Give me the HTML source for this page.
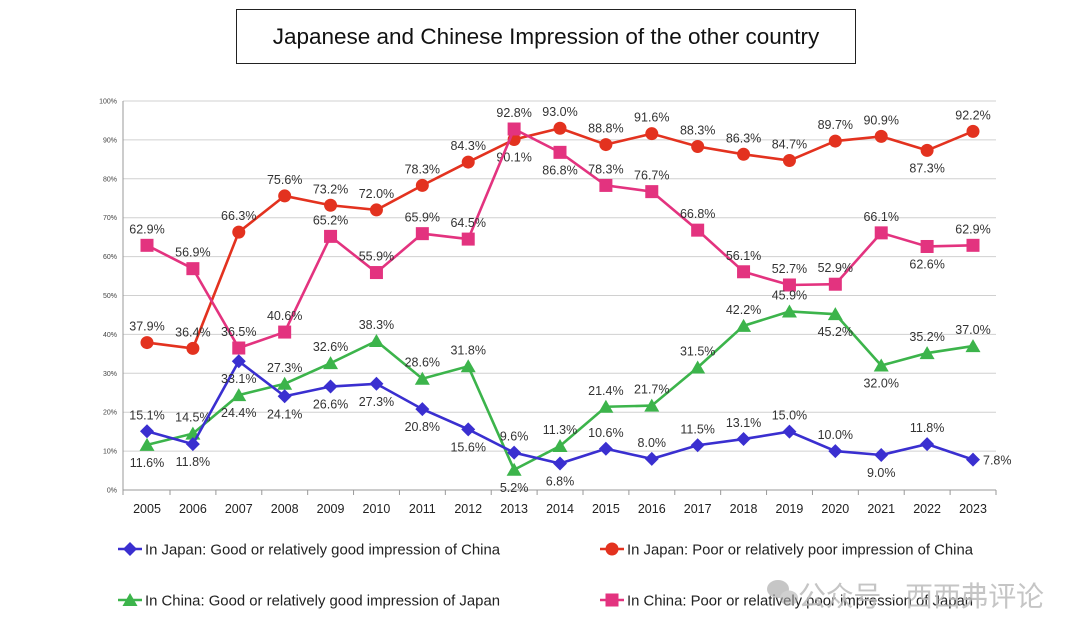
<!DOCTYPE html>
<html><head><meta charset="utf-8"><style>
body{margin:0;background:#fff;width:1080px;height:639px;overflow:hidden;font-family:"Liberation Sans",sans-serif}
#title{position:absolute;left:236px;top:9px;width:620px;height:55px;border:1px solid #222;box-sizing:border-box;text-align:center;line-height:53px;font-size:22.5px;color:#111}
svg{position:absolute;left:0;top:0}
</style></head><body>
<div id="title">Japanese and Chinese Impression of the other country</div>
<svg id="chart" width="1080" height="639"></svg>
<script>
const years=["2005","2006","2007","2008","2009","2010","2011","2012","2013","2014","2015","2016","2017","2018","2019","2020","2021","2022","2023"];
const yTicks=[0,10,20,30,40,50,60,70,80,90,100];
const jpGood=[15.1,11.8,33.1,24.1,26.6,27.3,20.8,15.6,9.6,6.8,10.6,8.0,11.5,13.1,15.0,10.0,9.0,11.8,7.8];
const jpPoor=[37.9,36.4,66.3,75.6,73.2,72.0,78.3,84.3,90.1,93.0,88.8,91.6,88.3,86.3,84.7,89.7,90.9,87.3,92.2];
const cnGood=[11.6,14.5,24.4,27.3,32.6,38.3,28.6,31.8,5.2,11.3,21.4,21.7,31.5,42.2,45.9,45.2,32.0,35.2,37.0];
const cnPoor=[62.9,56.9,36.5,40.6,65.2,55.9,65.9,64.5,92.8,86.8,78.3,76.7,66.8,56.1,52.7,52.9,66.1,62.6,62.9];
const jpGoodLab="abbbbbbbabaaaaaaba"+"r";
const jpPoorLab="aaaaaaaabaaaaaaaaba";
const cnGoodLab="babaaaaabaaaaaabbaa";
const cnPoorLab="aaaaaaaaabaaaaaaaba";
const NS="http://www.w3.org/2000/svg";
const svg=document.getElementById('chart');
const X=i=>147+i*(973-147)/(years.length-1);
const Y=v=>490-v*3.89;
function el(t,a,p){const e=document.createElementNS(NS,t);for(const k in a)e.setAttribute(k,a[k]);(p||svg).appendChild(e);return e;}
yTicks.forEach(t=>{
 const g=el('line',{x1:123,x2:996,y1:Y(t),y2:Y(t),stroke:t?'#d0d0d0':'#999','stroke-width':1});
 
 
 const tx=el('text',{x:117,y:Y(t)+2.5,'text-anchor':'end','font-size':7,fill:'#444'});tx.textContent=t+'%';
 
 
});
el('line',{x1:123,x2:123,y1:Y(100),y2:490,stroke:'#999'});
years.forEach((y,i)=>{
 el('line',{x1:X(i)+23,x2:X(i)+23,y1:490,y2:495,stroke:'#999'});
 const t=el('text',{x:X(i),y:513,'text-anchor':'middle','font-size':12.5,fill:'#222'});t.textContent=y;
 
 
});
el('line',{x1:123,x2:123,y1:490,y2:495,stroke:'#999'});
function marker(shape,x,y,c,name){
 let m;
 if(shape==='d')m=el('polygon',{points:`${x},${y-7} ${x+7},${y} ${x},${y+7} ${x-7},${y}`,fill:c});
 else if(shape==='c')m=el('circle',{cx:x,cy:y,r:6.5,fill:c});
 else if(shape==='t')m=el('polygon',{points:`${x},${y-7} ${x+7.5},${y+6} ${x-7.5},${y+6}`,fill:c});
 else m=el('rect',{x:x-6.5,y:y-6.5,width:13,height:13,fill:c});
 
 
 return m;
}
function series(data,labs,c,shape,name){
 const g=el('g',{});
 
 
 el('polyline',{points:data.map((v,i)=>X(i)+','+Y(v)).join(' '),fill:'none',stroke:c,'stroke-width':2.6},g);
 data.forEach((v,i)=>{
  const m=marker(shape,X(i),Y(v),c,name+'-point');g.appendChild(m);
  const l=labs[i];let x=X(i),y=Y(v),a='middle';
  if(l==='a')y-=12;else if(l==='b')y+=22;else{x+=10;y+=5;a='start';}
  const t=el('text',{x:x,y:y,'text-anchor':a,'font-size':12.5,fill:'#333'},g);t.textContent=v.toFixed(1)+'%';
  
  
 });
}
series(jpPoor,jpPoorLab,'#e3321f','c','series-japan-poor');
series(cnPoor,cnPoorLab,'#e3337f','s','series-china-poor');
series(cnGood,cnGoodLab,'#3cb44b','t','series-china-good');
series(jpGood,jpGoodLab,'#3a2fd0','d','series-japan-good');
const legend=[["In Japan: Good or relatively good impression of China",'#3a2fd0','d',126,549],["In Japan: Poor or relatively poor impression of China",'#e3321f','c',608,549],["In China: Good or relatively good impression of Japan",'#3cb44b','t',126,600],["In China: Poor or relatively poor impression of Japan",'#e3337f','s',608,600]];
legend.forEach(([txt,c,s,x,y])=>{
 const g=el('g',{});
 
 
 el('line',{x1:x-8,x2:x+16,y1:y,y2:y,stroke:c,'stroke-width':2.6},g);
 g.appendChild(marker(s,x+4,y,c,'legend-marker'));
 const t=el('text',{x:x+19,y:y+5.5,'font-size':15,fill:'#222',textLength:x<300?355:346,lengthAdjust:'spacingAndGlyphs'},g);t.textContent=txt;
});
const ic=el('g',{opacity:0.55});


el('ellipse',{cx:778,cy:589,rx:11,ry:9,fill:'#999'},ic);
el('ellipse',{cx:789,cy:598,rx:9,ry:7.5,fill:'#aaa'},ic);
const wm=el('text',{x:798,y:606,'font-size':28,fill:'#bbb','fill-opacity':0.85,textLength:246,'font-family':'"Liberation Sans","Noto Sans CJK SC",sans-serif'});
wm.textContent='公众号 · 西西弗评论';


</script>
</body></html>
